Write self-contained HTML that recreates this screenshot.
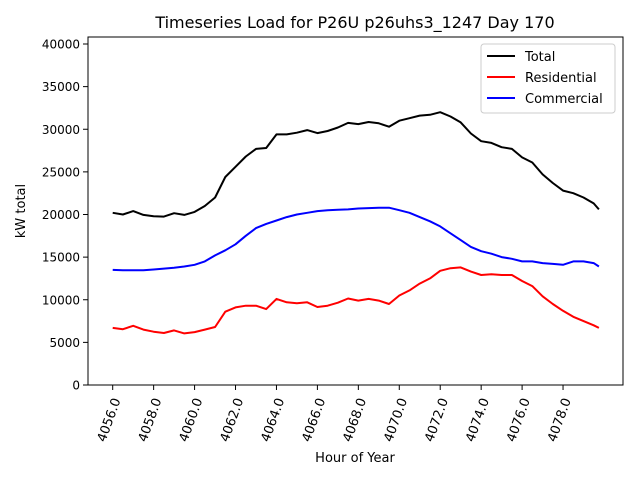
<!DOCTYPE html>
<html><head><meta charset="utf-8"><style>
body{margin:0;background:#fff;}
svg{display:block;font-family:"DejaVu Sans","Liberation Sans",sans-serif;}
</style></head><body>
<svg id="chart" width="640" height="480" xmlns="http://www.w3.org/2000/svg">
<rect width="640" height="480" fill="#fff"/>
<text x="355" y="28" font-size="16" text-anchor="middle">Timeseries Load for P26U p26uhs3_1247  Day 170</text>
<g id="plot"></g>
<rect x="88" y="37" width="535" height="348" fill="none" stroke="#000" stroke-width="1"/>
<text transform="translate(25,211) rotate(-90)" font-size="13" text-anchor="middle">kW total</text>
<text x="355" y="462" font-size="13" text-anchor="middle">Hour of Year</text>
<g>
<rect x="481" y="44" width="134" height="69" rx="3" fill="#fff" stroke="#ccc"/>
<line x1="487" y1="56" x2="515" y2="56" stroke="#000" stroke-width="2"/>
<text x="525" y="61" font-size="13">Total</text>
<line x1="487" y1="77" x2="515" y2="77" stroke="#f00" stroke-width="2"/>
<text x="525" y="82" font-size="13">Residential</text>
<line x1="487" y1="98" x2="515" y2="98" stroke="#00f" stroke-width="2"/>
<text x="525" y="103" font-size="13">Commercial</text>
</g>
</svg>
<script>
const hours = [4056,4056.5,4057,4057.5,4058,4058.5,4059,4059.5,4060,4060.5,4061,4061.5,4062,4062.5,4063,4063.5,4064,4064.5,4065,4065.5,4066,4066.5,4067,4067.5,4068,4068.5,4069,4069.5,4070,4070.5,4071,4071.5,4072,4072.5,4073,4073.5,4074,4074.5,4075,4075.5,4076,4076.5,4077,4077.5,4078,4078.5,4079,4079.5,4079.75];
const totalKw = [20200,20000,20400,19950,19800,19750,20150,19950,20300,21000,22000,24400,25600,26800,27700,27800,29400,29400,29600,29900,29550,29800,30200,30750,30600,30850,30700,30300,31000,31300,31600,31700,32000,31500,30800,29500,28600,28400,27900,27700,26700,26100,24700,23700,22800,22500,22000,21300,20600];
const residentialKw = [6700,6550,6950,6500,6250,6100,6400,6050,6200,6500,6800,8600,9100,9300,9300,8900,10100,9700,9600,9700,9150,9300,9650,10150,9900,10100,9900,9500,10500,11100,11900,12500,13400,13700,13800,13300,12900,13000,12900,12900,12200,11600,10400,9500,8700,8000,7500,7000,6700];
const commercialKw = [13500,13450,13450,13450,13550,13650,13750,13900,14100,14500,15200,15800,16500,17500,18400,18900,19300,19700,20000,20200,20400,20500,20550,20600,20700,20750,20800,20800,20500,20200,19700,19200,18600,17800,17000,16200,15700,15400,15000,14800,14500,14500,14300,14200,14100,14500,14500,14300,13900];
const xTicks = [4056,4058,4060,4062,4064,4066,4068,4070,4072,4074,4076,4078];
const yTicks = [0,5000,10000,15000,20000,25000,30000,35000,40000];

const NS='http://www.w3.org/2000/svg';
const xs = h => 112.7 + (h-4056)*20.47;
const ys = v => 385 - v*0.008525;
const g = document.getElementById('plot');
function mk(tag, attrs){const e=document.createElementNS(NS,tag);for(const k in attrs)e.setAttribute(k,attrs[k]);g.appendChild(e);return e;}

xTicks.forEach(t=>{
  const l=mk('line',{x1:xs(t),x2:xs(t),y1:385,y2:390,stroke:'#000'});
  
  
  const tx=mk('text',{transform:`translate(${xs(t)+8},400) rotate(-70)`,'font-size':'13','text-anchor':'end'});
  
  
  tx.textContent=t.toFixed(1);
});
yTicks.forEach(t=>{
  const l=mk('line',{x1:83,x2:88,y1:ys(t),y2:ys(t),stroke:'#000'});
  
  
  const tx=mk('text',{x:80,y:ys(t)+4.5,'font-size':'12','text-anchor':'end'});
  
  
  tx.textContent=t;
});
function line(vals,color,name){
  const p=mk('polyline',{points:vals.map((v,i)=>xs(hours[i]).toFixed(1)+','+ys(v).toFixed(1)).join(' '),fill:'none',stroke:color,'stroke-width':'2','stroke-linejoin':'round'});
  
  
}
line(totalKw,'#000','total-line');
line(residentialKw,'#f00','residential-line');
line(commercialKw,'#00f','commercial-line');
</script>
</body></html>
